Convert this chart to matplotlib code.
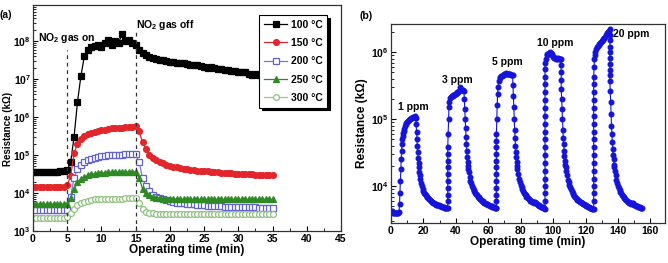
import numpy as np
import matplotlib
matplotlib.use("Agg")
import matplotlib.pyplot as plt
from matplotlib.ticker import FuncFormatter, MultipleLocator, LogLocator, NullFormatter

plt.rcParams['font.family'] = ['Liberation Sans', 'DejaVu Sans']
plt.rcParams['font.weight'] = 'bold'
plt.rcParams['mathtext.fontset'] = 'custom'
plt.rcParams['mathtext.bf'] = 'Liberation Sans:bold'
plt.rcParams['mathtext.rm'] = 'Liberation Sans:bold'

# ---------------- Panel (a) data: resistance (kOhm) vs time (min), 0.5-min steps ----------------
time_a = [i * 0.5 for i in range(71)]
labels_a = ["100 \u00b0C", "150 \u00b0C", "200 \u00b0C", "250 \u00b0C", "300 \u00b0C"]

r_100 = [3.5e4, 3.5e4, 3.6e4, 3.5e4, 3.5e4, 3.5e4, 3.6e4, 3.6e4, 3.7e4, 3.8e4,
         4.0e4, 6.5e4, 3.0e5, 2.5e6, 1.2e7, 4.0e7, 6.0e7, 7.0e7, 7.5e7, 8.0e7,
         7.0e7, 9.0e7, 1.1e8, 8.0e7, 1.0e8, 9.0e7, 1.5e8, 1.0e8, 1.1e8, 9.0e7,
         8.0e7, 6.0e7, 4.8e7, 4.2e7, 3.9e7, 3.6e7, 3.4e7, 3.2e7, 3.1e7, 3.0e7,
         2.9e7, 2.9e7, 2.7e7, 2.6e7, 2.6e7, 2.5e7, 2.4e7, 2.4e7, 2.3e7, 2.2e7,
         2.1e7, 2.0e7, 2.1e7, 1.9e7, 1.8e7, 1.8e7, 1.7e7, 1.7e7, 1.6e7, 1.6e7,
         1.55e7, 1.5e7, 1.5e7, 1.4e7, 1.3e7, 1.35e7, 1.25e7, 1.15e7, 1.15e7, 1.1e7,
         1.05e7]
r_150 = [1.45e4, 1.45e4, 1.45e4, 1.45e4, 1.45e4, 1.45e4, 1.45e4, 1.45e4, 1.45e4, 1.45e4,
         1.6e4, 2.8e4, 1.1e5, 2.0e5, 2.6e5, 3.1e5, 3.5e5, 3.8e5, 4.1e5, 4.3e5,
         4.5e5, 4.7e5, 4.8e5, 5.0e5, 5.1e5, 5.2e5, 5.3e5, 5.4e5, 5.5e5, 5.6e5,
         5.7e5, 4.2e5, 2.2e5, 1.4e5, 1.0e5, 8.5e4, 7.4e4, 6.6e4, 6.0e4, 5.6e4,
         5.2e4, 4.9e4, 4.7e4, 4.5e4, 4.3e4, 4.2e4, 4.1e4, 4.0e4, 3.9e4, 3.8e4,
         3.75e4, 3.7e4, 3.6e4, 3.55e4, 3.5e4, 3.45e4, 3.4e4, 3.35e4, 3.3e4, 3.25e4,
         3.2e4, 3.2e4, 3.15e4, 3.1e4, 3.1e4, 3.05e4, 3.05e4, 3.0e4, 3.0e4, 3.0e4,
         3.0e4]
r_200 = [3.5e3, 3.5e3, 3.5e3, 3.5e3, 3.5e3, 3.5e3, 3.5e3, 3.5e3, 3.5e3, 3.5e3,
         3.6e3, 8.0e3, 2.5e4, 4.2e4, 5.5e4, 6.5e4, 7.3e4, 8.0e4, 8.6e4, 9.0e4,
         9.4e4, 9.6e4, 9.8e4, 1.0e5, 1.0e5, 1.02e5, 1.03e5, 1.04e5, 1.05e5, 1.05e5,
         1.05e5, 6.5e4, 2.5e4, 1.5e4, 1.1e4, 9.0e3, 8.0e3, 7.3e3, 6.8e3, 6.4e3,
         6.1e3, 5.8e3, 5.6e3, 5.4e3, 5.3e3, 5.2e3, 5.1e3, 5.0e3, 4.9e3, 4.8e3,
         4.7e3, 4.65e3, 4.6e3, 4.55e3, 4.5e3, 4.45e3, 4.4e3, 4.4e3, 4.35e3, 4.3e3,
         4.3e3, 4.25e3, 4.25e3, 4.2e3, 4.2e3, 4.2e3, 4.15e3, 4.15e3, 4.1e3, 4.1e3,
         4.1e3]
r_250 = [5.1e3, 5.1e3, 5.1e3, 5.1e3, 5.1e3, 5.1e3, 5.1e3, 5.1e3, 5.1e3, 5.1e3,
         5.2e3, 7.5e3, 1.3e4, 1.9e4, 2.3e4, 2.6e4, 2.9e4, 3.1e4, 3.2e4, 3.3e4,
         3.4e4, 3.4e4, 3.5e4, 3.5e4, 3.5e4, 3.6e4, 3.6e4, 3.6e4, 3.6e4, 3.6e4,
         3.6e4, 2.5e4, 1.3e4, 1.0e4, 8.8e3, 8.0e3, 7.6e3, 7.3e3, 7.1e3, 7.0e3,
         7.0e3, 6.9e3, 6.9e3, 6.9e3, 6.8e3, 6.8e3, 6.8e3, 6.8e3, 6.8e3, 6.8e3,
         6.8e3, 6.8e3, 6.8e3, 6.8e3, 6.8e3, 6.8e3, 6.8e3, 6.8e3, 6.8e3, 6.8e3,
         6.8e3, 6.8e3, 6.8e3, 6.8e3, 6.8e3, 6.8e3, 6.8e3, 6.8e3, 6.8e3, 6.8e3,
         6.8e3]
r_300 = [2.2e3, 2.2e3, 2.2e3, 2.2e3, 2.2e3, 2.2e3, 2.2e3, 2.2e3, 2.2e3, 2.2e3,
         2.3e3, 2.9e3, 3.8e3, 4.7e3, 5.4e3, 5.9e3, 6.3e3, 6.6e3, 6.8e3, 6.9e3,
         7.0e3, 7.0e3, 7.0e3, 7.1e3, 7.1e3, 7.1e3, 7.1e3, 7.2e3, 7.2e3, 7.2e3,
         7.2e3, 5.5e3, 3.8e3, 3.2e3, 3.0e3, 2.9e3, 2.85e3, 2.85e3, 2.8e3, 2.8e3,
         2.8e3, 2.8e3, 2.8e3, 2.8e3, 2.8e3, 2.8e3, 2.8e3, 2.8e3, 2.8e3, 2.8e3,
         2.8e3, 2.8e3, 2.8e3, 2.8e3, 2.8e3, 2.8e3, 2.8e3, 2.8e3, 2.8e3, 2.8e3,
         2.8e3, 2.8e3, 2.8e3, 2.8e3, 2.8e3, 2.8e3, 2.8e3, 2.8e3, 2.8e3, 2.8e3,
         2.8e3]
series_a = [r_100, r_150, r_200, r_250, r_300]

# ---------------- Panel (b) data: (time min, resistance kOhm) per NO2 pulse ----------------
pulse1 = [(0, 4.3e3), (0.5, 4.2e3), (1, 4.1e3), (1.5, 4.0e3), (2, 4.0e3), (2.5, 4.0e3), (3, 4.0e3),
          (3.5, 4.0e3), (4, 4.0e3), (4.5, 4.0e3), (5, 4.1e3), (5.25, 5.5e3), (5.5, 8e3), (5.75, 1.2e4),
          (6, 1.8e4), (6.25, 2.5e4), (6.5, 3.3e4), (6.75, 4.2e4), (7, 5.0e4), (7.25, 5.6e4), (7.5, 6.2e4),
          (7.75, 6.7e4), (8, 7.2e4), (8.5, 8.0e4), (9, 8.5e4), (9.5, 8.9e4), (10, 9.2e4), (10.5, 9.5e4),
          (11, 9.8e4), (11.5, 1.0e5), (12, 1.02e5), (12.5, 1.04e5), (13, 1.05e5), (13.5, 1.07e5),
          (14, 1.08e5), (14.5, 1.09e5), (15, 1.1e5), (15.25, 1.05e5), (15.5, 8.5e4), (15.75, 6.5e4),
          (16, 5.0e4), (16.25, 4.0e4), (16.5, 3.2e4), (16.75, 2.6e4), (17, 2.2e4), (17.25, 1.9e4),
          (17.5, 1.6e4), (17.75, 1.45e4), (18, 1.3e4), (18.5, 1.1e4), (19, 1.0e4), (19.5, 9.2e3),
          (20, 8.5e3), (20.5, 8.0e3), (21, 7.6e3), (21.5, 7.3e3), (22, 7.0e3), (22.5, 6.8e3), (23, 6.6e3),
          (23.5, 6.4e3), (24, 6.2e3), (24.5, 6.05e3), (25, 5.9e3), (25.5, 5.8e3), (26, 5.7e3),
          (26.5, 5.6e3), (27, 5.5e3), (27.5, 5.4e3), (28, 5.3e3), (28.5, 5.25e3), (29, 5.2e3),
          (29.5, 5.15e3), (30, 5.1e3), (30.5, 5.05e3), (31, 5.0e3), (31.5, 4.95e3), (32, 4.9e3),
          (32.5, 4.85e3), (33, 4.8e3), (33.5, 4.75e3), (34, 4.7e3), (34.5, 4.7e3)]
pulse2 = [(35, 4.7e3), (35, 6e3), (35, 7.5e3), (35, 9.5e3), (35, 1.2e4), (35, 1.5e4), (35, 1.9e4),
          (35, 2.4e4), (35, 3.0e4), (35, 3.8e4), (35.25, 6e4), (35.5, 1.0e5), (35.75, 1.5e5), (36, 1.8e5),
          (36.5, 2.05e5), (37, 2.15e5), (37.5, 2.2e5), (38, 2.25e5), (38.5, 2.28e5), (39, 2.3e5),
          (39.5, 2.35e5), (40, 2.4e5), (40.5, 2.45e5), (41, 2.5e5), (41.5, 2.55e5), (42, 2.6e5),
          (42.5, 3.0e5), (43, 2.7e5), (43.5, 2.75e5), (44, 2.7e5), (44.5, 2.7e5), (45, 2.65e5),
          (45.25, 2.0e5), (45.5, 1.4e5), (45.75, 1.0e5), (46, 7.5e4), (46.25, 5.5e4), (46.5, 4.2e4),
          (46.75, 3.3e4), (47, 2.7e4), (47.25, 2.3e4), (47.5, 2.0e4), (47.75, 1.8e4), (48, 1.6e4),
          (48.5, 1.35e4), (49, 1.2e4), (49.5, 1.1e4), (50, 1.0e4), (50.5, 9.4e3), (51, 8.8e3),
          (51.5, 8.4e3), (52, 8.0e3), (52.5, 7.6e3), (53, 7.3e3), (53.5, 7.0e3), (54, 6.8e3),
          (54.5, 6.6e3), (55, 6.4e3), (55.5, 6.25e3), (56, 6.1e3), (56.5, 5.95e3), (57, 5.8e3),
          (57.5, 5.7e3), (58, 5.6e3), (58.5, 5.5e3), (59, 5.4e3), (59.5, 5.35e3), (60, 5.3e3),
          (60.5, 5.2e3), (61, 5.1e3), (61.5, 5.05e3), (62, 5.0e3), (62.5, 4.95e3), (63, 4.9e3),
          (63.5, 4.85e3), (64, 4.8e3), (64.5, 4.8e3)]
pulse3 = [(65, 4.8e3), (65, 6e3), (65, 7.5e3), (65, 9.5e3), (65, 1.2e4), (65, 1.5e4), (65, 1.9e4),
          (65, 2.4e4), (65, 3.0e4), (65, 3.8e4), (65, 4.8e4), (65, 6.0e4), (65.25, 1.0e5), (65.5, 1.6e5),
          (65.75, 2.4e5), (66, 3.0e5), (66.5, 3.7e5), (67, 4.1e5), (67.5, 4.3e5), (68, 4.4e5),
          (68.5, 4.45e5), (69, 4.5e5), (69.5, 4.6e5), (70, 4.7e5), (70.5, 4.75e5), (71, 4.8e5),
          (71.5, 4.75e5), (72, 4.7e5), (72.5, 4.7e5), (73, 4.7e5), (73.5, 4.65e5), (74, 4.6e5),
          (74.5, 4.55e5), (75, 4.5e5), (75.25, 3.2e5), (75.5, 2.2e5), (75.75, 1.5e5), (76, 1.0e5),
          (76.25, 7.0e4), (76.5, 5.2e4), (76.75, 4.0e4), (77, 3.2e4), (77.25, 2.7e4), (77.5, 2.3e4),
          (77.75, 2.0e4), (78, 1.8e4), (78.5, 1.5e4), (79, 1.3e4), (79.5, 1.15e4), (80, 1.05e4),
          (80.5, 9.7e3), (81, 9.0e3), (81.5, 8.5e3), (82, 8.0e3), (82.5, 7.6e3), (83, 7.3e3),
          (83.5, 7.0e3), (84, 6.8e3), (84.5, 6.6e3), (85, 6.4e3), (85.5, 6.25e3), (86, 6.1e3),
          (86.5, 5.95e3), (87, 5.8e3), (87.5, 5.75e3), (88, 5.7e3), (88.5, 5.9e3), (89, 5.9e3),
          (89.5, 5.6e3), (90, 5.4e3), (90.5, 5.3e3), (91, 5.2e3), (91.5, 5.1e3), (92, 5.0e3),
          (92.5, 4.95e3), (93, 4.9e3), (93.5, 4.85e3), (94, 4.8e3), (94.5, 4.75e3)]
pulse4 = [(95, 4.6e3), (95, 6e3), (95, 7.8e3), (95, 1.0e4), (95, 1.3e4), (95, 1.7e4), (95, 2.2e4),
          (95, 2.9e4), (95, 3.8e4), (95, 5e4), (95, 6.5e4), (95, 8.5e4), (95, 1.1e5), (95, 1.45e5),
          (95, 1.9e5), (95, 2.5e5), (95, 3.3e5), (95, 4.3e5), (95, 5.6e5), (95, 7e5), (95.5, 8.0e5),
          (96, 9.0e5), (96.5, 9.3e5), (97, 9.5e5), (97.5, 9.8e5), (98, 1.0e6), (98.5, 9.8e5),
          (99, 9.5e5), (99.5, 9.0e5), (100, 8.5e5), (100.5, 8.3e5), (101, 8.2e5), (101.5, 8.1e5),
          (102, 8.0e5), (102.5, 8.0e5), (103, 8.1e5), (103.5, 8.0e5), (104, 8.0e5), (104.5, 8.0e5),
          (105, 8.0e5), (105, 6.5e5), (105, 5.0e5), (105, 3.8e5), (105, 2.8e5), (105.25, 2.0e5),
          (105.5, 1.4e5), (105.75, 1.0e5), (106, 7.0e4), (106.25, 5.3e4), (106.5, 4.2e4),
          (106.75, 3.4e4), (107, 2.8e4), (107.25, 2.4e4), (107.5, 2.1e4), (107.75, 1.9e4), (108, 1.7e4),
          (108.5, 1.45e4), (109, 1.25e4), (109.5, 1.15e4), (110, 1.05e4), (110.5, 9.7e3), (111, 9.0e3),
          (111.5, 8.5e3), (112, 8.0e3), (112.5, 7.6e3), (113, 7.2e3), (113.5, 6.9e3), (114, 6.7e3),
          (114.5, 6.5e3), (115, 6.3e3), (115.5, 6.15e3), (116, 6.0e3), (116.5, 5.9e3), (117, 5.8e3),
          (117.5, 5.7e3), (118, 5.6e3), (118.5, 5.5e3), (119, 5.4e3), (119.5, 5.3e3), (120, 5.2e3),
          (120.5, 5.1e3), (121, 5.0e3), (121.5, 4.95e3), (122, 4.9e3), (122.5, 4.8e3), (123, 4.7e3),
          (123.5, 4.65e3), (124, 4.6e3), (124.5, 4.6e3)]
pulse5 = [(125, 4.6e3), (125, 6e3), (125, 7.8e3), (125, 1.0e4), (125, 1.3e4), (125, 1.7e4),
          (125, 2.2e4), (125, 2.9e4), (125, 3.8e4), (125, 5e4), (125, 6.5e4), (125, 8.5e4), (125, 1.1e5),
          (125, 1.45e5), (125, 1.9e5), (125, 2.5e5), (125, 3.3e5), (125, 4.3e5), (125.25, 6e5),
          (125.5, 8e5), (125.75, 9.2e5), (126, 1.0e6), (126.5, 1.1e6), (127, 1.2e6), (127.5, 1.25e6),
          (128, 1.3e6), (128.5, 1.34e6), (129, 1.38e6), (129.5, 1.42e6), (130, 1.45e6), (130.5, 1.5e6),
          (131, 1.55e6), (131.5, 1.62e6), (132, 1.7e6), (132.5, 1.78e6), (133, 1.85e6), (133.5, 1.92e6),
          (134, 2.0e6), (134.5, 2.1e6), (135, 2.2e6), (135, 1.8e6), (135, 1.5e6), (135, 1.2e6),
          (135, 1.0e6), (135, 8.2e5), (135, 6.7e5), (135, 5.5e5), (135, 4.5e5), (135, 3.7e5),
          (135.25, 2.6e5), (135.5, 1.8e5), (135.75, 1.2e5), (136, 8.0e4), (136.25, 6.0e4), (136.5, 4.5e4),
          (136.75, 3.6e4), (137, 2.9e4), (137.25, 2.5e4), (137.5, 2.1e4), (137.75, 1.9e4), (138, 1.7e4),
          (138.5, 1.45e4), (139, 1.25e4), (139.5, 1.1e4), (140, 1.0e4), (140.5, 9.4e3), (141, 8.8e3),
          (141.5, 8.3e3), (142, 7.8e3), (142.5, 7.4e3), (143, 7.1e3), (143.5, 6.8e3), (144, 6.6e3),
          (144.5, 6.4e3), (145, 6.2e3), (145.5, 6.05e3), (146, 5.9e3), (146.5, 5.8e3), (147, 5.7e3),
          (147.5, 5.6e3), (148, 5.5e3), (148.5, 5.6e3), (149, 5.7e3), (149.5, 5.4e3), (150, 5.3e3),
          (150.5, 5.2e3), (151, 5.1e3), (151.5, 5.05e3), (152, 5.0e3), (152.5, 4.95e3), (153, 4.9e3),
          (153.5, 4.85e3), (154, 4.8e3), (154.5, 4.75e3), (155, 4.7e3)]
ppm_labels = ["1 ppm", "3 ppm", "5 ppm", "10 ppm", "20 ppm"]
ppm_pos_t = [4.3, 31.3, 62.2, 90, 137.2]
ppm_pos_r = [1.5e5, 3.8e5, 7.2e5, 1.38e6, 1.86e6]

all_b = pulse1 + pulse2 + pulse3 + pulse4 + pulse5
time_b = [p[0] for p in all_b]
res_b = [p[1] for p in all_b]

# ---------------- Figure ----------------
fig = plt.figure(figsize=(6.68, 2.63), dpi=100)
ax1 = fig.add_axes([33 / 668, 1 - 231 / 263, 308 / 668, 226 / 263])
ax2 = fig.add_axes([391 / 668, 1 - 223 / 263, 274 / 668, 199 / 263])

def log_fmt(v, pos):
    e = int(round(np.log10(v)))
    return r'$\mathbf{10^{%d}}$' % e

styles = [
    dict(color='black', marker='s', mfc='black', mec='black', ms=3.8),
    dict(color='#e3262b', marker='o', mfc='#e3262b', mec='#e3262b', ms=4.2),
    dict(color='#7a78d8', marker='s', mfc='white', mec='#6462cf', ms=4.0),
    dict(color='#2f8a26', marker='^', mfc='#2f8a26', mec='#2f8a26', ms=4.4),
    dict(color='#9ac98d', marker='o', mfc='white', mec='#8fc280', ms=4.2),
]
for vals, lab, st in zip(series_a, labels_a, styles):
    ax1.plot(time_a, vals, lw=0.9, label=lab, mew=0.9, **st)

ax1.set_yscale('log')
ax1.set_xlim(0, 45)
ax1.set_ylim(1e3, 10 ** 8.95)
ax1.axvline(5, ymin=0, ymax=0.80, color='#333333', lw=0.9, ls=(0, (3, 3)))
ax1.axvline(15, ymin=0, ymax=0.89, color='#333333', lw=0.9, ls=(0, (3, 3)))
ax1.text(0.8, 1.2e8, r'NO$_\mathbf{2}$ gas on', fontsize=7.5, fontweight='bold', va='center')
ax1.text(15.1, 2.7e8, r'NO$_\mathbf{2}$ gas off', fontsize=7.5, fontweight='bold', va='center')
ax1.set_xlabel('Operating time (min)', fontsize=8.5, fontweight='bold', labelpad=0)
ax1.set_ylabel('Resistance (k\u03a9)', fontsize=7, fontweight='bold')
ax1.yaxis.set_label_coords(-0.066, 0.45)
ax1.xaxis.set_major_locator(MultipleLocator(5))
ax1.xaxis.set_minor_locator(MultipleLocator(2.5))
ax1.yaxis.set_major_locator(LogLocator(base=10, numticks=10))
ax1.yaxis.set_minor_locator(LogLocator(base=10, subs=np.arange(2, 10), numticks=20))
ax1.yaxis.set_major_formatter(FuncFormatter(log_fmt))
ax1.yaxis.set_minor_formatter(NullFormatter())
leg = ax1.legend(loc='upper right', bbox_to_anchor=(0.955, 0.956), fontsize=7.5,
                 frameon=True, fancybox=False, shadow={'color': 'black', 'alpha': 1},
                 edgecolor='black', handlelength=2.2, borderpad=0.45, labelspacing=0.8,
                 handletextpad=0.35, borderaxespad=0)
leg.get_frame().set_linewidth(0.8)
for t in leg.get_texts():
    t.set_fontweight('bold')

ax2.plot(time_b, res_b, color='#1414dc', lw=0.8, marker='o', ms=3.3, mfc='#1414dc', mec='#1414dc')
ax2.set_yscale('log')
ax2.set_xlim(0, 169)
ax2.set_ylim(10 ** 3.45, 10 ** 6.42)
for lab, tx, ty in zip(ppm_labels, ppm_pos_t, ppm_pos_r):
    ax2.text(tx, ty, lab, fontsize=7.5, fontweight='bold', va='center')
ax2.set_xlabel('Operating time (min)', fontsize=8.5, fontweight='bold', labelpad=0)
ax2.set_ylabel('Resistance (k\u03a9)', fontsize=8.5, fontweight='bold', labelpad=2)
ax2.xaxis.set_major_locator(MultipleLocator(20))
ax2.xaxis.set_minor_locator(MultipleLocator(10))
ax2.yaxis.set_major_locator(LogLocator(base=10, numticks=10))
ax2.yaxis.set_minor_locator(LogLocator(base=10, subs=np.arange(2, 10), numticks=20))
ax2.yaxis.set_major_formatter(FuncFormatter(log_fmt))
ax2.yaxis.set_minor_formatter(NullFormatter())

for ax in (ax1, ax2):
    ax.tick_params(which='both', direction='in', labelsize=7.5, pad=2)
    ax.tick_params(which='major', length=3.5, width=0.8)
    ax.tick_params(which='minor', length=2, width=0.6)
    for lab in ax.get_xticklabels() + ax.get_yticklabels():
        lab.set_fontweight('bold')
    for s in ax.spines.values():
        s.set_linewidth(0.9)
        s.set_color('#333333')
ax1.tick_params(axis='y', which='both', pad=1.5)

fig.text(0.0, 1 - 15 / 263, '(a)', fontsize=7.5, va='center', ha='left')
fig.text(360 / 668, 1 - 16 / 263, '(b)', fontsize=7.5, va='center', ha='left')

fig.savefig('out.png', dpi=100)
